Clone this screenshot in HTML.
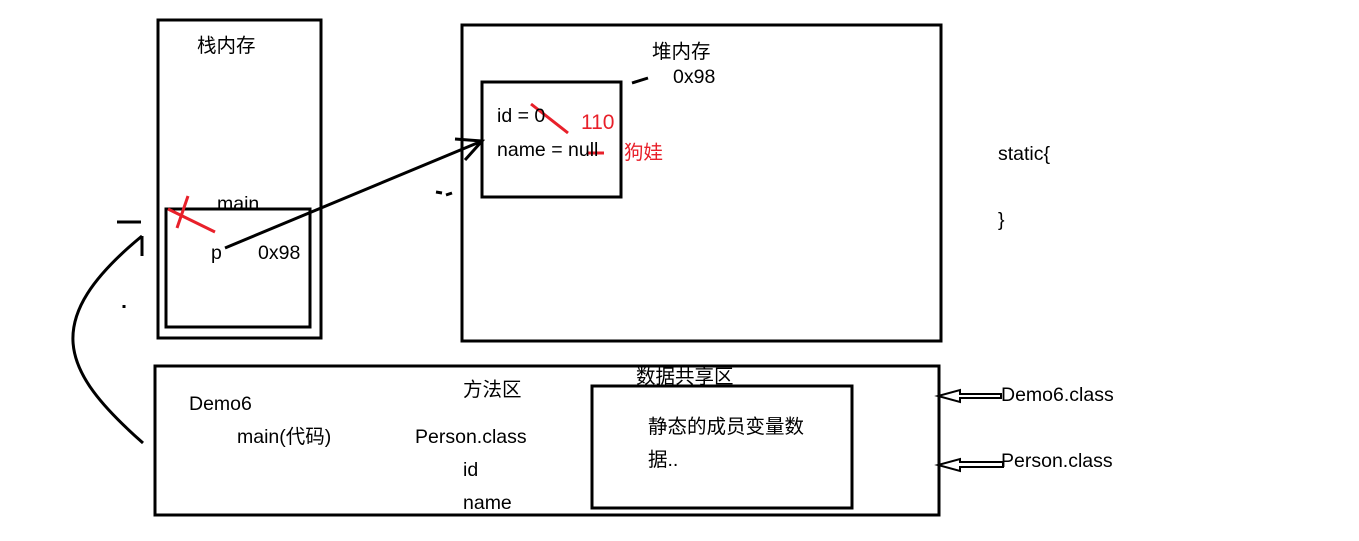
<!DOCTYPE html>
<html><head><meta charset="utf-8"><style>
body{margin:0;width:1359px;height:541px;background:#fff;overflow:hidden}
svg{display:block}
text{font-family:"Liberation Sans","Noto Sans CJK SC",sans-serif;font-size:19.5px;fill:#000}
.r{fill:#e8202a}
</style></head><body>
<svg width="1359" height="541" viewBox="0 0 1359 541">
<g fill="none" stroke="#000" stroke-width="3">
<rect x="158" y="20" width="163" height="318"/>
<rect x="166" y="209" width="144" height="118"/>
<rect x="462" y="25" width="479" height="316"/>
<rect x="482" y="82" width="139" height="115"/>
<rect x="155" y="366" width="784" height="149"/>
<rect x="592" y="386" width="260" height="122"/>
<path d="M225 248 L482 141 M455 139 L482 141 L465 160"/>
<path d="M143 443 C60 370 40 320 142 236 M142 236 L142 256 M117 222 L141 222"/>
<path d="M632 83 L648 78 M436 192 L442 193 M446 195 L452 193 M124 305 L124 308"/>
</g>
<g stroke="#000" stroke-width="2" fill="#fff">
<path d="M1001 394 L960 394 L960 390 L938 396 L960 402 L960 398 L1001 398 Z"/>
<path d="M1003 462 L960 462 L960 459 L938 465 L960 471 L960 467 L1003 467 Z"/>
</g>
<g stroke="#e8202a" stroke-width="3" fill="none">
<path d="M168 209 L215 232 M188 196 L177 228"/>
<path d="M531 104 L568 133 M588 153 L604 153"/>
</g>
<text x="197" y="52">栈内存</text>
<text x="217" y="210">main</text>
<text x="211" y="259">p</text>
<text x="258" y="259">0x98</text>
<text x="652" y="58">堆内存</text>
<text x="673" y="83">0x98</text>
<text x="497" y="122">id = 0</text>
<text x="497" y="156">name = null</text>
<text class="r" x="581" y="129" style="font-size:21px">110</text>
<text class="r" x="624" y="159">狗娃</text>
<text x="998" y="160">static{</text>
<text x="998" y="226">}</text>
<text x="189" y="410">Demo6</text>
<text x="237" y="443">main(代码)</text>
<text x="463" y="396">方法区</text>
<text x="636" y="383">数据共享区</text>
<text x="415" y="443">Person.class</text>
<text x="463" y="476">id</text>
<text x="463" y="509">name</text>
<text x="648" y="433">静态的成员变量数</text>
<text x="648" y="466">据..</text>
<text x="1001" y="401">Demo6.class</text>
<text x="1001" y="467">Person.class</text>
</svg>
</body></html>
